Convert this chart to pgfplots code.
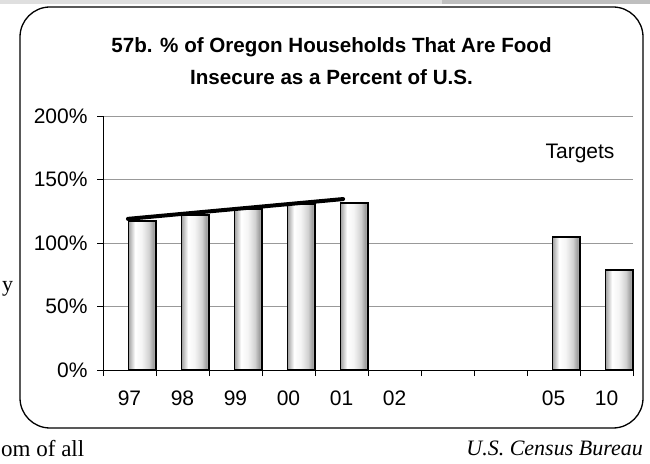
\documentclass[border=0pt]{standalone}
\usepackage{pgfplots}
\pgfplotsset{compat=1.18}
\usepackage{fontspec}
\setmainfont{Liberation Sans}
\newfontfamily\serif{Liberation Serif}

% cylinder-like shading for the bars (box maps to 25bp..75bp)
\pgfdeclarehorizontalshading{cyl}{100bp}{color(0bp)=(gray!75); color(25bp)=(gray!75); color(37bp)=(white); color(49bp)=(white!92!gray); color(62bp)=(gray!35); color(70bp)=(gray!75); color(75bp)=(gray!55); color(100bp)=(gray!55)}

\begin{document}
\begin{tikzpicture}[x=1pt,y=1pt]
	\path[use as bounding box] (0,0) rectangle (650,463);
	% page remnants
	\fill[gray!25] (0,459) rectangle (442,463);
	\fill[gray!50] (442,459) rectangle (650,463);
	\draw[line width=1.3pt, rounded corners=30pt] (20,35) rectangle (643,456);

	\begin{axis}[
		at={(103pt,93pt)}, anchor=south west,
		scale only axis,
		width=530pt, height=254pt,
		xmin=0, xmax=10, ymin=0, ymax=200,
		axis x line*=bottom, axis y line*=left,
		axis line style={black, line width=0.8pt, -},
		xtick={0,1,...,10}, xticklabels={},
		extra x ticks={0.5,1.5,...,9.5},
		extra x tick labels={97,98,99,00,01,02,{},{},05,10},
		extra x tick style={major tick length=0pt, grid=none},
		ytick={0,50,100,150,200},
		yticklabels={0\%,50\%,100\%,150\%,200\%},
		tick align=outside,
		major tick length=6pt,
		tick style={black, line width=0.8pt},
		ymajorgrids,
		major grid style={gray!80, line width=0.8pt},
		ticklabel style={font=\fontsize{21}{25}\selectfont},
		yticklabel style={xshift=-6pt},
		xticklabel style={yshift=-17pt},
		clip=false,
		bar width=0.52, bar shift=0pt,
		every axis plot/.append style={draw=black},
		]
		% one plot per bar so each bar gets its own shading
		\addplot[ybar, line width=1.8pt, shading=cyl] coordinates {(0.74,117.5)};
		\addplot[ybar, line width=1.8pt, shading=cyl] coordinates {(1.74,122)};
		\addplot[ybar, line width=1.8pt, shading=cyl] coordinates {(2.74,126.5)};
		\addplot[ybar, line width=1.8pt, shading=cyl] coordinates {(3.74,130.5)};
		\addplot[ybar, line width=1.8pt, shading=cyl] coordinates {(4.74,131.5)};
		\addplot[ybar, line width=1.8pt, shading=cyl] coordinates {(8.74,105)};
		\addplot[ybar, line width=1.8pt, shading=cyl] coordinates {(9.74,78.5)};
		% trend line
		\addplot[black, line width=4pt, line cap=round]
			coordinates {(0.47,119) (4.53,134.6)};
	\end{axis}

	\node[align=center, font=\bfseries\fontsize{20.6}{32}\selectfont] at (331.5,402)
		{57b. \% of Oregon Households That Are Food\\Insecure as a Percent of U.S.};
	\node[font=\fontsize{21}{25}\selectfont] at (580,310) {Targets};

	\node[anchor=base west, inner sep=0, font=\serif\fontsize{23}{27}\selectfont] at (1,7) {om of all};
	\node[anchor=base east, inner sep=0, font=\serif\itshape\fontsize{22}{26}\selectfont] at (643,8) {U.S. Census Bureau};
	\node[anchor=base west, inner sep=0, font=\serif\fontsize{22}{26}\selectfont] at (2,171) {y};
\end{tikzpicture}
\end{document}
